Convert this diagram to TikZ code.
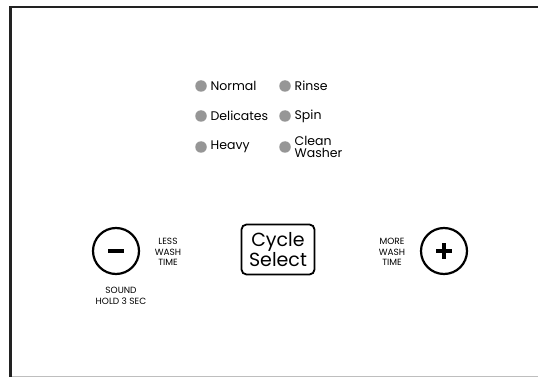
\documentclass[tikz,border=0pt]{standalone}
\usepackage{fontspec}
\setmainfont{Poppins}
\usepackage{tikz}
\usetikzlibrary{positioning}
\definecolor{framedark}{RGB}{34,34,34}
\definecolor{framelight}{RGB}{190,190,190}
\definecolor{ledgray}{RGB}{150,150,150}

\begin{document}
\begin{tikzpicture}[
    x=1pt, y=-1pt,
    every node/.style={inner sep=0pt},
    led/.style={circle, fill=ledgray, minimum size=11.5pt},
    ledtext/.style={font=\fontsize{12.5}{11.5}\selectfont, anchor=west, align=left},
    keyring/.style={circle, draw=black, line width=2.2pt, minimum size=46pt},
    keybar/.style={rectangle, fill=black, minimum width=16pt, minimum height=4pt},
    smallcaps/.style={font=\fontsize{9}{10.5}\selectfont, align=center},
    cyclebox/.style={rectangle, draw=black, line width=1.8pt, rounded corners=5pt, minimum width=73pt, minimum height=50pt, align=center, font=\fontsize{19}{17}\selectfont}
]
\useasboundingbox (0,0) rectangle (538,377);

% panel frame
\draw[framedark, line width=2.8pt] (10.5,377) -- (10.5,7) -- (538,7);
\draw[framelight, line width=1pt] (12,376) -- (538,376);

% cycle lights
\node[led] (ledNormal) at (201,86) {};
\node[led] (ledDelicates) at (201,116) {};
\node[led] (ledHeavy) at (201,147) {};
\node[led] (ledRinse) at (285,86) {};
\node[led] (ledSpin) at (285,116) {};
\node[led] (ledClean) at (285,147) {};

\node[ledtext, right=3.5pt of ledNormal] (txtNormal) {Normal};
\node[ledtext, right=3.5pt of ledDelicates] (txtDelicates) {Delicates};
\node[ledtext, right=3.5pt of ledHeavy] (txtHeavy) {Heavy};
\node[ledtext, right=3.5pt of ledRinse] (txtRinse) {Rinse};
\node[ledtext, right=3.5pt of ledSpin] (txtSpin) {Spin};
\node[ledtext, right=3.5pt of ledClean] (txtClean) {Clean\\Washer};

% buttons
\node[keyring] (minus) at (116,251) {};
\node[keybar] (minusbar) at (minus) {};
\node[smallcaps] (lessTime) at (168,252) {LESS\\WASH\\TIME};
\node[smallcaps] (sound) at (121,296) {SOUND\\HOLD 3 SEC};

\node[cyclebox] (cycle) at (278,249.5) {Cycle\\Select};

\node[keyring] (plus) at (444,251) {};
\node[keybar] (plusbarH) at (plus) {};
\node[keybar, rotate=90] (plusbarV) at (plus) {};
\node[smallcaps] (moreTime) at (392,252) {MORE\\WASH\\TIME};

\end{tikzpicture}
\end{document}
